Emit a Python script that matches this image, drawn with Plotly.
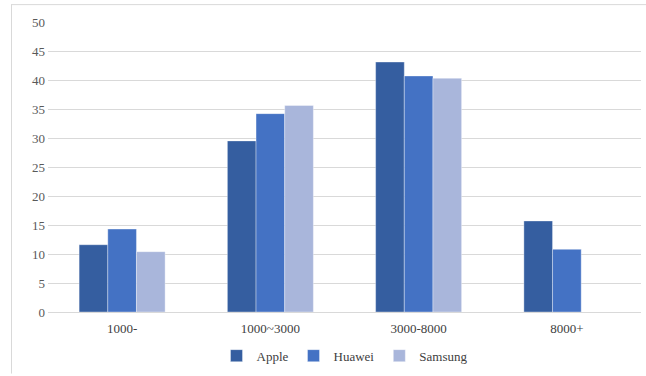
import plotly.graph_objects as go

categories = ["1000-", "1000~3000", "3000-8000", "8000+"]
apple = [11.6, 29.5, 43.1, 15.7]
huawei = [14.3, 34.2, 40.7, 10.8]
samsung = [10.4, 35.6, 40.3, None]

series = [("Apple", apple, "#355EA0"), ("Huawei", huawei, "#4472C4"), ("Samsung", samsung, "#A9B6DB")]

fig = go.Figure()
for name, vals, color in series:
    fig.add_trace(go.Bar(x=categories, y=vals, name=name,
                         marker=dict(color=color, line=dict(color="rgba(255,255,255,0.45)", width=0.8))))

W, H = 646, 376
L, R, T, B = 48, 5, 22, 62
pw, ph = W - L - R, H - T - B

def px_to_paper_x(px):
    return (px - L) / pw

def px_to_paper_y(py):
    return (H - B - py) / ph

fig.update_layout(
    width=W, height=H,
    margin=dict(l=L, r=R, t=T, b=B),
    paper_bgcolor="white", plot_bgcolor="white",
    barmode="group", bargap=0.42, bargroupgap=0,
    font=dict(family="Liberation Serif, Times New Roman, serif", size=13, color="#595959"),
    xaxis=dict(showgrid=False, showline=True, linecolor="#D9D9D9", linewidth=1, ticks="",
               ticklabelstandoff=4, tickfont=dict(size=13, color="#404040")),
    yaxis=dict(range=[0, 50], dtick=5, showgrid=True, gridcolor="#D9D9D9", gridwidth=1,
               zeroline=False, showline=False, ticks="", ticklabelstandoff=2,
               tickfont=dict(size=13, color="#595959")),
    legend=dict(orientation="h", x=0.5, xanchor="center", y=px_to_paper_y(358), yanchor="middle",
                font=dict(size=13, color="#404040"), itemwidth=30, traceorder="normal"),
    showlegend=True,
    shapes=[
        dict(type="line", xref="paper", yref="paper", x0=px_to_paper_x(11), x1=px_to_paper_x(646),
             y0=px_to_paper_y(4.5), y1=px_to_paper_y(4.5), line=dict(color="#D9D9D9", width=1)),
        dict(type="line", xref="paper", yref="paper", x0=px_to_paper_x(11.5), x1=px_to_paper_x(11.5),
             y0=px_to_paper_y(4.5), y1=px_to_paper_y(376), line=dict(color="#D9D9D9", width=1)),
    ],
)

fig.write_html("out.html")
